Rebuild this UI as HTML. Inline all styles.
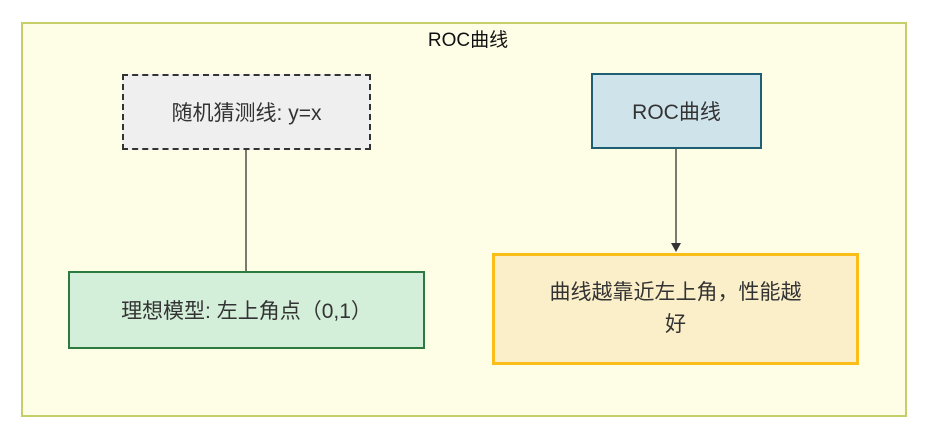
<!DOCTYPE html>
<html><head><meta charset="utf-8"><style>
body{margin:0;width:936px;height:434px;background:#fff;position:relative;overflow:hidden;font-family:"Liberation Sans","Noto Sans CJK SC",sans-serif;}
.b{position:absolute;box-sizing:border-box;display:flex;align-items:center;justify-content:center;text-align:center;color:#333;font-size:21px;}
</style></head><body>
<div class="b" style="left:21px;top:22px;width:886px;height:395px;background:#fefde6;border:2px solid #c5cf6a;"></div>
<div style="position:absolute;left:0;top:25px;width:936px;text-align:center;font-size:19px;color:#111;">ROC曲线</div>
<div class="b" style="left:122px;top:74px;width:249px;height:76px;background:#efefef;border:2px dashed #333;">随机猜测线: y=x</div>
<div class="b" style="left:591px;top:73px;width:171px;height:76px;background:#cfe3ea;border:2px solid #1f5f73;">ROC曲线</div>
<div class="b" style="left:68px;top:271px;width:357px;height:78px;background:#d3eed9;border:2px solid #2c7a3f;">理想模型: 左上角点（0,1）</div>
<div class="b" style="left:492px;top:253px;width:367px;height:112px;background:#fbefc9;border:3px solid #fbbd17;padding:0 48px;line-height:32px;">曲线越靠近左上角，性能越好</div>
<svg style="position:absolute;left:0;top:0" width="936" height="434">
<line x1="246" y1="150" x2="246" y2="271" stroke="#333" stroke-width="1.3"/>
<line x1="676" y1="149" x2="676" y2="245" stroke="#333" stroke-width="1.3"/>
<polygon points="671,243 681,243 676,252" fill="#333"/>
</svg>
</body></html>
